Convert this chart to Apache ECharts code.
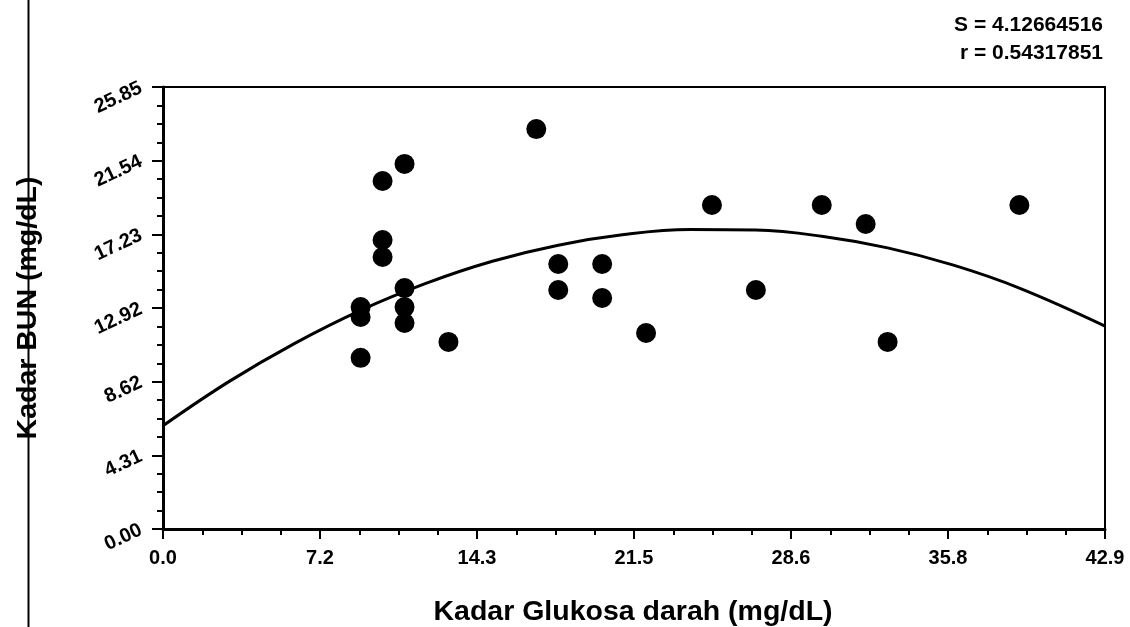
<!DOCTYPE html>
<html>
<head>
<meta charset="utf-8">
<title>Kadar BUN vs Kadar Glukosa darah</title>
<script src="https://cdn.jsdelivr.net/npm/echarts@6/dist/echarts.min.js"></script>
<style>
  html, body { margin: 0; padding: 0; background: #ffffff; }
  #chart { width: 1130px; height: 627px; }
</style>
</head>
<body>
<div id="chart"></div>
<script>
// Observed samples: blood glucose (x) and BUN (y)
var glucose = [9, 9, 9, 10, 10, 10, 11, 11, 11, 11, 13, 17, 18, 18, 20, 20, 22, 25, 27, 30, 32, 33, 39];
var bun = [12.98, 12.40, 10.01, 20.35, 16.90, 15.91, 21.35, 14.09, 12.98, 12.05, 10.94, 23.39, 15.50, 13.98, 15.50, 13.51, 11.46, 18.95, 13.98, 18.95, 17.84, 10.94, 18.95];

// Fitted regression curve, sampled along the x range
var fitX = [0, 3, 6, 9, 12, 15, 18, 21, 24, 27, 30, 33, 36, 39, 42.9];
var fitY = [6.04, 8.62, 10.86, 12.79, 14.38, 15.66, 16.60, 17.22, 17.51, 17.48, 17.12, 16.44, 15.43, 14.09, 11.87];

// Axis tick labels and titles
var xTickLabels = ['0.0', '7.2', '14.3', '21.5', '28.6', '35.8', '42.9'];
var yTickLabels = ['0.00', '4.31', '8.62', '12.92', '17.23', '21.54', '25.85'];
var xTitle = 'Kadar Glukosa darah (mg/dL)';
var yTitle = 'Kadar BUN (mg/dL)';
var xMax = 42.9, yMax = 25.85;

// Fit statistics
var statLines = ['S = 4.12664516', 'r = 0.54317851'];

var xStep = xMax / 6, yStep = yMax / 6;
var FONT = '"Liberation Sans", Arial, sans-serif';

var points = glucose.map(function (g, i) { return [g, bun[i]]; });
var curve = fitX.map(function (x, i) { return [x, fitY[i]]; });

var chart = echarts.init(document.getElementById('chart'), null, { renderer: 'canvas' });
chart.setOption({
  backgroundColor: '#ffffff',
  animation: false,
  grid: {
    left: 163, right: 25, top: 87, bottom: 98,
    containLabel: false, outerBoundsMode: 'none',
    show: true, borderColor: '#000', borderWidth: 2, backgroundColor: 'transparent'
  },
  xAxis: {
    type: 'value', min: 0, max: xMax, interval: xStep,
    axisLine: { show: true, lineStyle: { color: '#000', width: 3 } },
    axisTick: { show: true, inside: false, length: 10, lineStyle: { color: '#000', width: 2 } },
    minorTick: { show: true, splitNumber: 4, length: 6, lineStyle: { color: '#000', width: 2 } },
    splitLine: { show: false },
    axisLabel: {
      color: '#000', fontSize: 20, fontWeight: 'bold', fontFamily: FONT, margin: 19,
      formatter: function (v) { return xTickLabels[Math.round(v / xStep)]; }
    }
  },
  yAxis: {
    type: 'value', min: 0, max: yMax, interval: yStep,
    axisLine: { show: true, lineStyle: { color: '#000', width: 3 } },
    axisTick: { show: true, inside: false, length: 11, lineStyle: { color: '#000', width: 2 } },
    minorTick: { show: true, splitNumber: 4, length: 6, lineStyle: { color: '#000', width: 2 } },
    splitLine: { show: false },
    axisLabel: {
      color: '#000', fontSize: 20, fontWeight: 'bold', fontFamily: FONT, margin: 22, rotate: 25,
      formatter: function (v) { return yTickLabels[Math.round(v / yStep)]; }
    }
  },
  graphic: [
    {
      type: 'line', z: 100,
      shape: { x1: 28.5, y1: 0, x2: 28.5, y2: 627 },
      style: { stroke: '#000', lineWidth: 2 }
    },
    {
      type: 'text', x: 28, y: 308, rotation: Math.PI / 2, z: 50,
      style: {
        text: yTitle, fill: '#000', font: 'bold 28.5px ' + FONT,
        textAlign: 'center', textVerticalAlign: 'middle'
      }
    },
    {
      type: 'text', x: 633, y: 612, z: 50,
      style: {
        text: xTitle, fill: '#000', font: 'bold 28.5px ' + FONT,
        textAlign: 'center', textVerticalAlign: 'middle'
      }
    },
    {
      type: 'text', right: 27, top: 15,
      style: { text: statLines[0], fill: '#000', font: 'bold 21px ' + FONT, textAlign: 'right' }
    },
    {
      type: 'text', right: 27, top: 43,
      style: { text: statLines[1], fill: '#000', font: 'bold 21px ' + FONT, textAlign: 'right' }
    }
  ],
  series: [
    {
      type: 'line', data: curve, smooth: 0.4, showSymbol: false, symbol: 'none',
      lineStyle: { color: '#000', width: 3 }, z: 2
    },
    {
      type: 'scatter', data: points, symbol: 'circle', symbolSize: 20,
      itemStyle: { color: '#000', opacity: 1 }, z: 3
    }
  ]
});
</script>
</body>
</html>
